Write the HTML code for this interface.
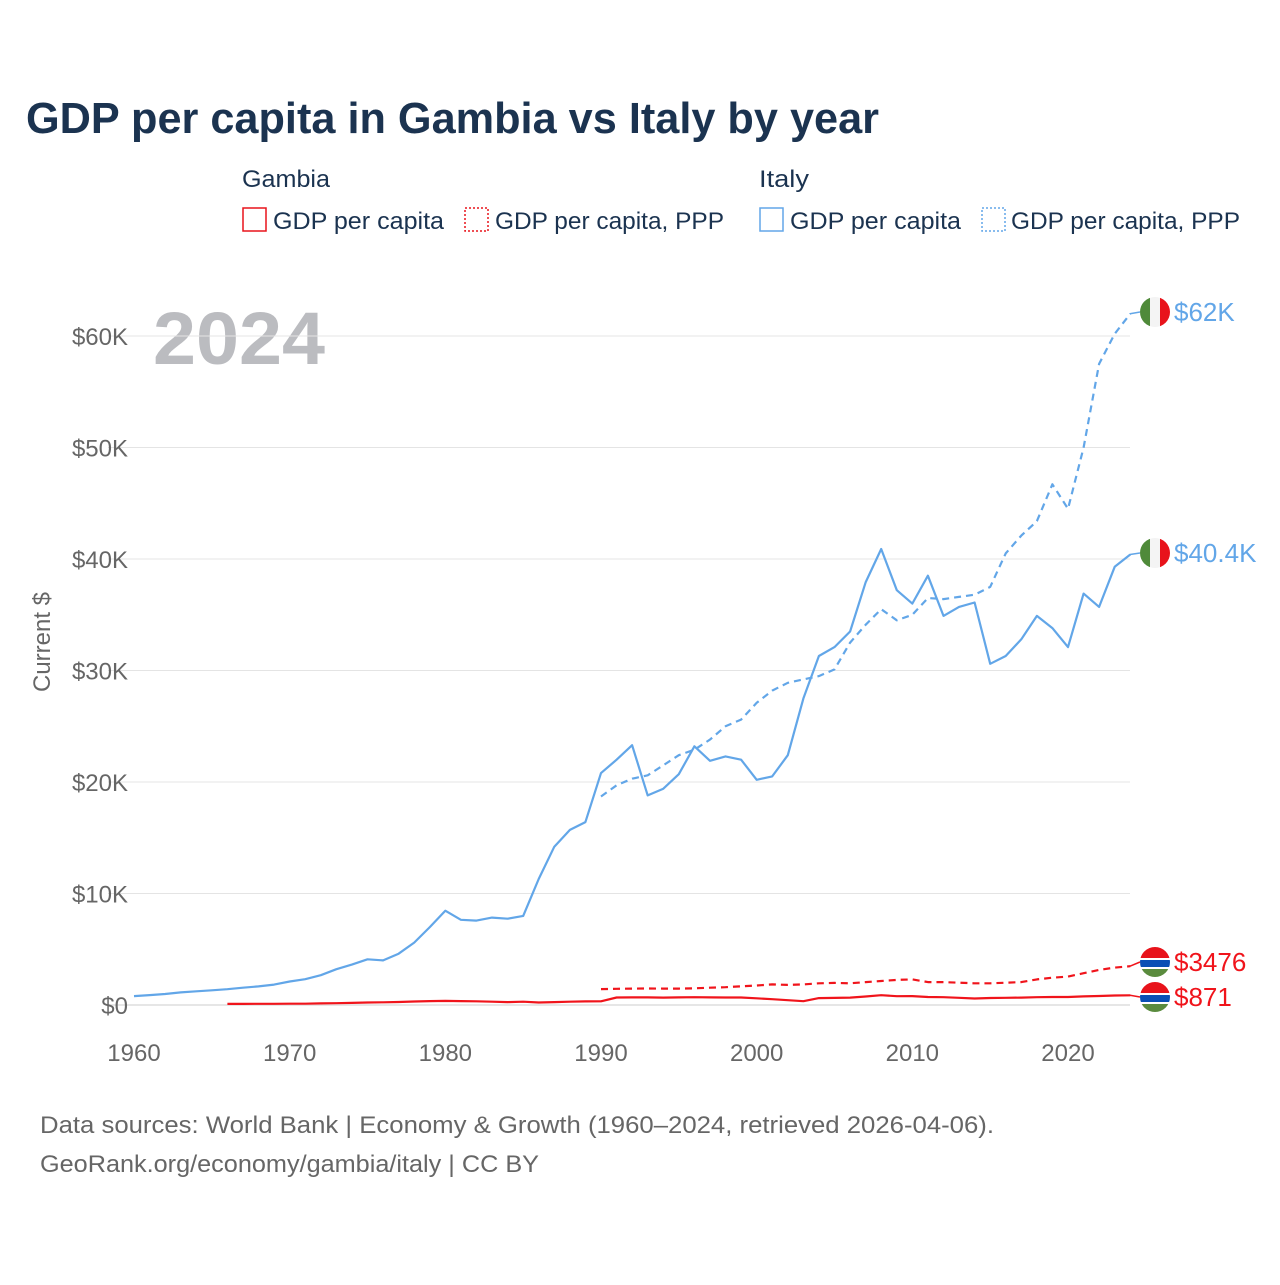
<!DOCTYPE html>
<html><head><meta charset="utf-8"><style>
html,body{margin:0;padding:0;background:#fff;}
svg text{font-family:"Liberation Sans",sans-serif;}
</style></head><body>
<svg width="1280" height="1280" viewBox="0 0 1280 1280" xmlns="http://www.w3.org/2000/svg">
<text x="26" y="133" font-size="44" font-weight="bold" fill="#1b3350" textLength="853" lengthAdjust="spacingAndGlyphs">GDP per capita in Gambia vs Italy by year</text>
<g>
<text x="242" y="187" font-size="24" fill="#1b3350" textLength="88" lengthAdjust="spacingAndGlyphs">Gambia</text>
<text x="759" y="187" font-size="24" fill="#1b3350" textLength="50" lengthAdjust="spacingAndGlyphs">Italy</text>
<g><rect x="243" y="208" width="23" height="23" fill="none" stroke="#e8131b" stroke-width="1.5"/><text x="273" y="229" font-size="24" fill="#1b3350" textLength="171" lengthAdjust="spacingAndGlyphs">GDP per capita</text></g>
<g><rect x="465" y="208" width="23" height="23" fill="none" stroke="#e8131b" stroke-width="1.5" stroke-dasharray="2,2"/><text x="495" y="229" font-size="24" fill="#1b3350" textLength="229" lengthAdjust="spacingAndGlyphs">GDP per capita, PPP</text></g>
<g><rect x="760" y="208" width="23" height="23" fill="none" stroke="#62a6e8" stroke-width="1.5"/><text x="790" y="229" font-size="24" fill="#1b3350" textLength="171" lengthAdjust="spacingAndGlyphs">GDP per capita</text></g>
<g><rect x="982" y="208" width="23" height="23" fill="none" stroke="#62a6e8" stroke-width="1.5" stroke-dasharray="2,2"/><text x="1011" y="229" font-size="24" fill="#1b3350" textLength="229" lengthAdjust="spacingAndGlyphs">GDP per capita, PPP</text></g>
</g>
<text x="153" y="364" font-size="74" font-weight="bold" fill="#bbbcc0" textLength="172" lengthAdjust="spacingAndGlyphs">2024</text>
<text transform="translate(50,642) rotate(-90)" text-anchor="middle" font-size="24" fill="#666">Current $</text>
<g id="grid"></g><g id="yt"></g><g id="xt"></g><g id="lines"></g><g id="ends"></g>
<text x="40" y="1133" font-size="24" fill="#666" textLength="954" lengthAdjust="spacingAndGlyphs">Data sources: World Bank | Economy &amp; Growth (1960–2024, retrieved 2026-04-06).</text>
<text x="40" y="1172" font-size="24" fill="#666" textLength="499" lengthAdjust="spacingAndGlyphs">GeoRank.org/economy/gambia/italy | CC BY</text>
</svg>
<script>
const yTicks=[0,10,20,30,40,50,60];
const xTicks=[1960,1970,1980,1990,2000,2010,2020];
const italyYears=[1960,1961,1962,1963,1964,1965,1966,1967,1968,1969,1970,1971,1972,1973,1974,1975,1976,1977,1978,1979,1980,1981,1982,1983,1984,1985,1986,1987,1988,1989,1990,1991,1992,1993,1994,1995,1996,1997,1998,1999,2000,2001,2002,2003,2004,2005,2006,2007,2008,2009,2010,2011,2012,2013,2014,2015,2016,2017,2018,2019,2020,2021,2022,2023,2024];
const italyGdp=[0.80,0.89,0.99,1.13,1.23,1.32,1.42,1.55,1.67,1.83,2.11,2.31,2.67,3.21,3.62,4.10,4.00,4.60,5.60,6.99,8.46,7.64,7.57,7.84,7.74,7.99,11.3,14.2,15.7,16.4,20.8,22.0,23.3,18.8,19.4,20.7,23.2,21.9,22.3,22.0,20.2,20.5,22.4,27.5,31.3,32.1,33.5,37.9,40.9,37.2,36.0,38.5,34.9,35.7,36.1,30.6,31.3,32.8,34.9,33.8,32.1,36.9,35.7,39.3,40.4];
const italyPppYears=[1990,1991,1992,1993,1994,1995,1996,1997,1998,1999,2000,2001,2002,2003,2004,2005,2006,2007,2008,2009,2010,2011,2012,2013,2014,2015,2016,2017,2018,2019,2020,2021,2022,2023,2024];
const italyPpp=[18.7,19.7,20.3,20.6,21.5,22.4,22.9,23.8,25.0,25.6,27.1,28.2,28.9,29.2,29.5,30.1,32.5,34.1,35.5,34.5,35.0,36.5,36.4,36.6,36.8,37.5,40.5,42.1,43.4,46.7,44.5,50.0,57.5,60.2,62.0];
const gambiaYears=[1966,1967,1968,1969,1970,1971,1972,1973,1974,1975,1976,1977,1978,1979,1980,1981,1982,1983,1984,1985,1986,1987,1988,1989,1990,1991,1992,1993,1994,1995,1996,1997,1998,1999,2000,2001,2002,2003,2004,2005,2006,2007,2008,2009,2010,2011,2012,2013,2014,2015,2016,2017,2018,2019,2020,2021,2022,2023,2024];
const gambiaGdp=[0.10,0.10,0.11,0.11,0.12,0.12,0.14,0.16,0.19,0.22,0.24,0.27,0.31,0.35,0.37,0.35,0.33,0.30,0.26,0.30,0.22,0.26,0.30,0.32,0.33,0.67,0.68,0.68,0.66,0.68,0.70,0.68,0.67,0.67,0.60,0.52,0.43,0.34,0.62,0.64,0.66,0.76,0.88,0.79,0.80,0.72,0.70,0.65,0.58,0.63,0.65,0.66,0.70,0.72,0.72,0.77,0.81,0.85,0.871];
const gambiaPppYears=[1990,1991,1992,1993,1994,1995,1996,1997,1998,1999,2000,2001,2002,2003,2004,2005,2006,2007,2008,2009,2010,2011,2012,2013,2014,2015,2016,2017,2018,2019,2020,2021,2022,2023,2024];
const gambiaPpp=[1.43,1.45,1.47,1.48,1.47,1.47,1.50,1.55,1.60,1.68,1.75,1.85,1.80,1.85,1.95,1.98,1.95,2.05,2.15,2.25,2.30,2.05,2.05,2.00,1.95,1.95,2.00,2.05,2.30,2.45,2.55,2.85,3.15,3.35,3.476];
const NS='http://www.w3.org/2000/svg';
const X=y=>134+(y-1960)*(1068-134)/60;
const Y=v=>1005-v*(1005-336)/60;
function mk(tag,attrs,parent){const e=document.createElementNS(NS,tag);for(const k in attrs)e.setAttribute(k,attrs[k]);document.getElementById(parent).appendChild(e);return e;}
yTicks.forEach(t=>{
 const l=mk('line',{x1:108,x2:1130,y1:Y(t),y2:Y(t),stroke:t===0?'#e6e6e6':'#e4e4e4','stroke-width':t===0?2:1},'grid');
 
 
 const tx=mk('text',{x:128,y:Y(t)+9,'text-anchor':'end','font-size':24,fill:'#666'},'yt');
 tx.textContent=t===0?'$0':'$'+t+'K';
 
 
});
xTicks.forEach(t=>{
 const tx=mk('text',{x:X(t),y:1061,'text-anchor':'middle','font-size':24,fill:'#666'},'xt');
 tx.textContent=t;
 
 
});
function line(xs,vs,color,dash,name){
 const d=xs.map((y,i)=>(i?'L':'M')+X(y).toFixed(1)+','+Y(vs[i]).toFixed(1)).join(' ');
 const p=mk('path',{d:d,fill:'none',stroke:color,'stroke-width':2.2,'stroke-dasharray':dash||'none','stroke-linejoin':'round'},'lines');
 
 
}
line(italyYears,italyGdp,'#62a6e8',null,'line-italy-gdp');
line(italyPppYears,italyPpp,'#62a6e8','7,5','line-italy-ppp');
line(gambiaYears,gambiaGdp,'#f0141b',null,'line-gambia-gdp');
line(gambiaPppYears,gambiaPpp,'#f0141b','7,5','line-gambia-ppp');
function endLabel(v,labelY,text,color,flag,name){
 const g=mk('g',{},'ends');
 
 
 const cx=1155,cy=labelY,r=15;
 const id='c'+name;
 g.innerHTML=`<clipPath id="${id}"><circle cx="${cx}" cy="${cy}" r="${r}"/></clipPath>`+
 (flag==='it'?
 `<g clip-path="url(#${id})"><rect x="${cx-r}" y="${cy-r}" width="10" height="30" fill="#4f8a3a"/><rect x="${cx-5}" y="${cy-r}" width="10" height="30" fill="#f4f4f4"/><rect x="${cx+5}" y="${cy-r}" width="10" height="30" fill="#e8131b"/></g>`:
 `<g clip-path="url(#${id})"><rect x="${cx-r}" y="${cy-r}" width="30" height="11" fill="#e8131b"/><rect x="${cx-r}" y="${cy-4}" width="30" height="2" fill="#fff"/><rect x="${cx-r}" y="${cy-2}" width="30" height="7" fill="#0a4fb5"/><rect x="${cx-r}" y="${cy+5}" width="30" height="2" fill="#fff"/><rect x="${cx-r}" y="${cy+7}" width="30" height="8" fill="#5a8b3e"/></g>`)+
 `<path d="M1130,${Y(v).toFixed(1)} L${cx-r},${cy}" stroke="${color}" stroke-width="1.5"/>`+
 `<text x="1174" y="${cy+9}" font-size="26" fill="${color}">${text}</text>`;
}
endLabel(italyPpp[italyPpp.length-1],312,'$62K','#62a6e8','it','end-label-italy-ppp');
endLabel(italyGdp[italyGdp.length-1],553,'$40.4K','#62a6e8','it','end-label-italy-gdp');
endLabel(gambiaPpp[gambiaPpp.length-1],962,'$3476','#f0141b','gm','end-label-gambia-ppp');
endLabel(gambiaGdp[gambiaGdp.length-1],997,'$871','#f0141b','gm','end-label-gambia-gdp');
</script>
</body></html>
